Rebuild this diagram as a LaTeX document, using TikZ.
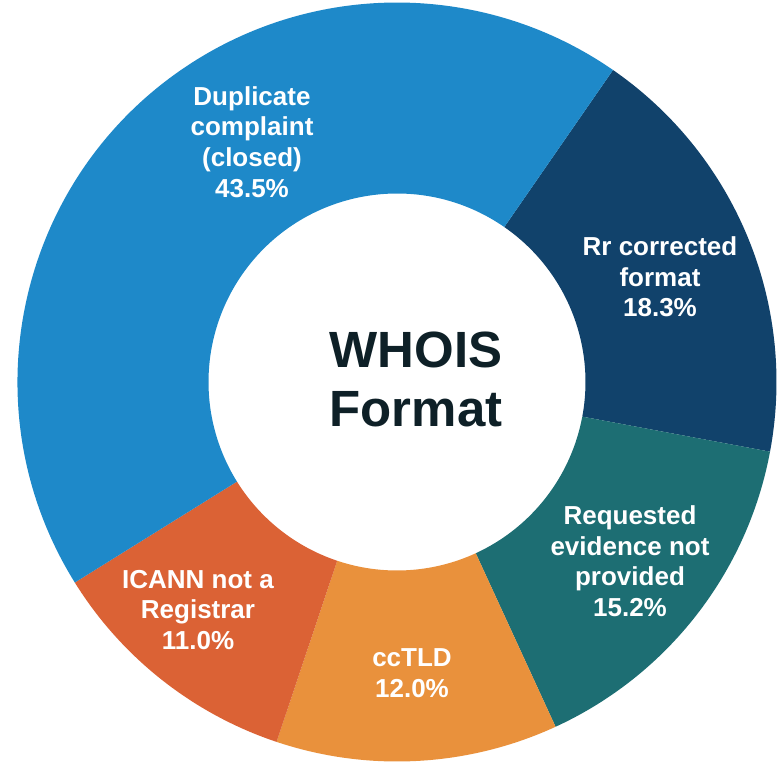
\documentclass[tikz,border=0pt]{standalone}
\usepackage{fontspec}
\setmainfont{Liberation Sans}
\definecolor{dupblue}{RGB}{30, 137, 201}
\definecolor{fixnavy}{RGB}{17, 66, 107}
\definecolor{evteal}{RGB}{29, 110, 115}
\definecolor{cctldorange}{RGB}{233, 145, 60}
\definecolor{icannred}{RGB}{219, 98, 53}
\definecolor{titledark}{RGB}{14, 32, 39}
\tikzset{
  slicelabel/.style={align=center, text=white, inner sep=0pt,
    font=\bfseries\fontsize{14.8}{17.4}\selectfont},
  centertitle/.style={align=center, text=titledark, inner sep=0pt,
    font=\bfseries\fontsize{29}{33.6}\selectfont}
}

\begin{document}
\begin{tikzpicture}

  \useasboundingbox (-7.94, -7.62) rectangle (7.64, 7.64);

  % ring slices, clockwise from the top right
  \foreach \a/\b/\c in {55.3/-10.58/fixnavy, -10.58/-65.3/evteal,
      -65.3/-108.5/cctldorange, -108.5/-148.1/icannred,
      -148.1/-304.7/dupblue} {
    \fill[color=\c] (\a:7.59) arc (\a:\b:7.59) -- (\b:3.77)
      arc (\b:\a:3.77) -- cycle;
  }

  \node[slicelabel] (dup) at (-2.90, 4.80)
    {Duplicate\\complaint\\(closed)\\43.5\%};
  \node[slicelabel] (fixed) at (5.26, 2.10)
    {Rr corrected\\format\\18.3\%};
  \node[slicelabel] (evidence) at (4.66, -3.58)
    {Requested\\evidence not\\provided\\15.2\%};
  \node[slicelabel] (cctld) at (0.30, -5.82)
    {ccTLD\\12.0\%};
  \node[slicelabel] (icann) at (-3.98, -4.56)
    {ICANN not a\\Registrar\\11.0\%};

  \node[centertitle] (title) at (0.38, 0.06) {WHOIS\\Format};

\end{tikzpicture}
\end{document}
